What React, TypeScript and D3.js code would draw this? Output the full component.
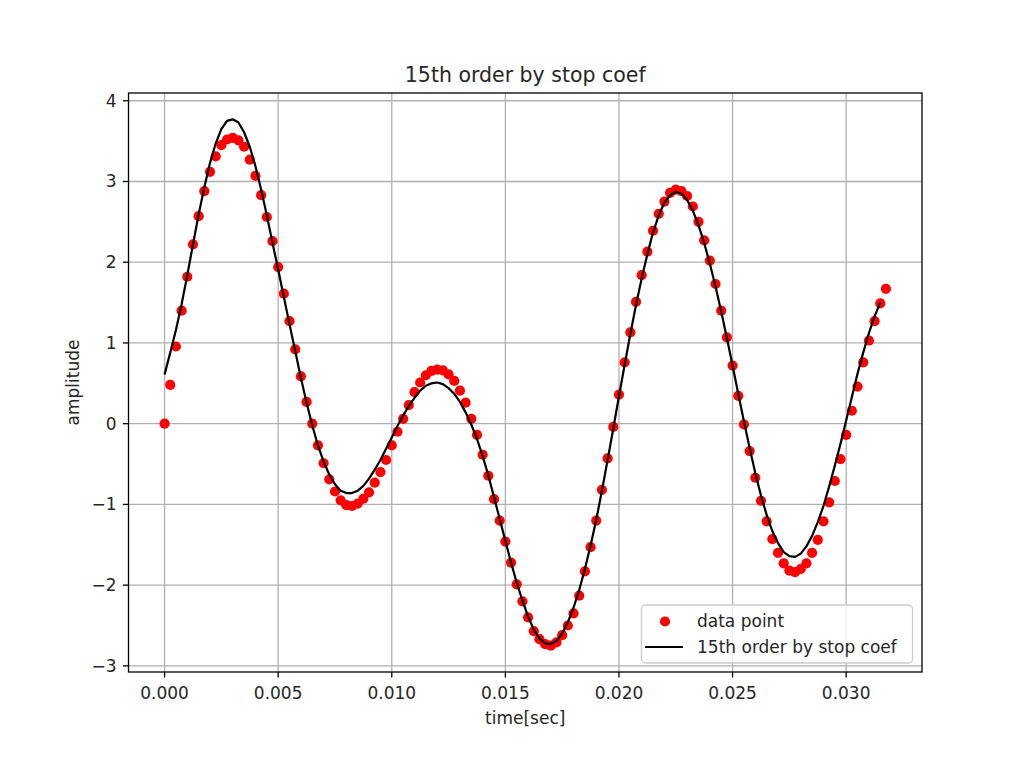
import React from "react";
import * as d3 from "d3";

// ---- data ----
const SAMPLE_STEP = 0.00025; // sampling interval [sec]

const amplitude: number[] = [
  0, 0.48, 0.956, 1.4, 1.82, 2.22, 2.57, 2.88, 3.12, 3.31,
  3.45, 3.52, 3.54, 3.51, 3.43, 3.27, 3.07, 2.83, 2.56, 2.26,
  1.94, 1.61, 1.27, 0.92, 0.585, 0.27, 0.0, -0.27, -0.49, -0.69,
  -0.84, -0.95, -1.01, -1.02, -0.99, -0.93, -0.85, -0.73, -0.6, -0.45,
  -0.27, -0.1, 0.06, 0.23, 0.39, 0.51, 0.6, 0.655, 0.67, 0.66,
  0.61, 0.53, 0.41, 0.26, 0.06, -0.14, -0.385, -0.645, -0.935, -1.2,
  -1.46, -1.72, -1.99, -2.2, -2.4, -2.57, -2.67, -2.73, -2.75, -2.71,
  -2.62, -2.5, -2.35, -2.13, -1.83, -1.53, -1.2, -0.82, -0.43, -0.04,
  0.36, 0.76, 1.13, 1.51, 1.84, 2.13, 2.39, 2.6, 2.75, 2.86,
  2.9, 2.88, 2.82, 2.69, 2.5, 2.27, 2.02, 1.73, 1.4, 1.07,
  0.72, 0.345, -0.01, -0.34, -0.67, -0.955, -1.21, -1.43, -1.6, -1.73,
  -1.82, -1.84, -1.8, -1.73, -1.6, -1.44, -1.21, -0.975, -0.71, -0.44,
  -0.14, 0.16, 0.46, 0.76, 1.03, 1.27, 1.49, 1.67,
];

const fitted: number[] = [
  0.61, 0.88, 1.16, 1.48, 1.84, 2.22, 2.59, 2.93, 3.23, 3.47,
  3.65, 3.75, 3.77, 3.73, 3.61, 3.43, 3.19, 2.9, 2.58, 2.24,
  1.91, 1.57, 1.23, 0.9, 0.57, 0.26, -0.02, -0.27, -0.47, -0.63,
  -0.75, -0.83, -0.86, -0.86, -0.83, -0.77, -0.68, -0.57, -0.45, -0.31,
  -0.17, -0.03, 0.1, 0.22, 0.32, 0.41, 0.47, 0.5, 0.51, 0.49,
  0.44, 0.37, 0.27, 0.14, -0.01, -0.19, -0.4, -0.64, -0.91, -1.18,
  -1.45, -1.72, -1.97, -2.19, -2.39, -2.55, -2.66, -2.72, -2.73, -2.69,
  -2.6, -2.46, -2.28, -2.06, -1.8, -1.51, -1.19, -0.83, -0.45, -0.06,
  0.34, 0.73, 1.11, 1.47, 1.8, 2.1, 2.37, 2.58, 2.74, 2.83,
  2.87, 2.85, 2.77, 2.64, 2.46, 2.24, 1.98, 1.7, 1.39, 1.06,
  0.72, 0.37, 0.03, -0.3, -0.61, -0.89, -1.13, -1.33, -1.48, -1.59,
  -1.64, -1.65, -1.61, -1.52, -1.39, -1.22, -1.02, -0.78, -0.52, -0.25,
  0.04, 0.33, 0.62, 0.88, 1.12, 1.33, 1.5,
];

const times: number[] = amplitude.map((_, i) => i * SAMPLE_STEP);
const fitTimes: number[] = fitted.map((_, i) => i * SAMPLE_STEP);

const xTicks: number[] = [0, 0.005, 0.01, 0.015, 0.02, 0.025, 0.03];
const yTicks: number[] = [-3, -2, -1, 0, 1, 2, 3, 4];

const TITLE = "15th order by stop coef";
const X_LABEL = "time[sec]";
const Y_LABEL = "amplitude";
const LEGEND_POINTS = "data point";
const LEGEND_LINE = "15th order by stop coef";

// ---- layout ----
const W = 1024;
const H = 768;
const L = 128.5;
const R = 922;
const T = 93;
const B = 672;
const FONT = "'DejaVu Sans', sans-serif";
const TXT = "#262626";
const FS = 17;

export default function App() {
  const tMin = d3.min(times)!;
  const tMax = d3.max(times)!;
  const tPad = (tMax - tMin) * 0.05;
  const yMin = Math.min(d3.min(amplitude)!, d3.min(fitted)!);
  const yMax = Math.max(d3.max(amplitude)!, d3.max(fitted)!);
  const yPad = (yMax - yMin) * 0.05;

  const x = d3.scaleLinear().domain([tMin - tPad, tMax + tPad]).range([L, R]);
  const y = d3.scaleLinear().domain([yMin - yPad, yMax + yPad]).range([B, T]);

  const line = d3
    .line<number>()
    .x((_, i) => x(fitTimes[i]))
    .y((d) => y(d));

  const fmtX = d3.format(".3f");
  const fmtY = (v: number) => (v < 0 ? "\u2212" + Math.abs(v) : String(v));

  return (
    <svg
      width={W}
      height={H}
      style={{ display: "block", position: "absolute", left: 0, top: 0, background: "#fff" }}
      fontFamily={FONT}
    >
      <rect x={0} y={0} width={W} height={H} fill="#fff" />
      {/* grid */}
      <g stroke="#b0b0b0" strokeWidth={1.3}>
        {xTicks.map((t) => (
          <line key={"gx" + t} x1={x(t)} x2={x(t)} y1={T} y2={B} />
        ))}
        {yTicks.map((v) => (
          <line key={"gy" + v} x1={L} x2={R} y1={y(v)} y2={y(v)} />
        ))}
      </g>
      {/* data points */}
      <g fill="#ff0000">
        {amplitude.map((v, i) => (
          <circle key={"p" + i} cx={x(times[i])} cy={y(v)} r={5.1} />
        ))}
      </g>
      {/* fitted line */}
      <path d={line(fitted) || ""} fill="none" stroke="#000" strokeWidth={2.2} strokeLinejoin="round" />
      {/* spines */}
      <rect x={L} y={T} width={R - L} height={B - T} fill="none" stroke="#000" strokeWidth={1.3} />
      {/* x ticks */}
      <g>
        {xTicks.map((t) => (
          <g key={"xt" + t}>
            <line x1={x(t)} x2={x(t)} y1={B} y2={B + 5.6} stroke="#000" strokeWidth={1.3} />
            <text x={x(t)} y={B + 27} textAnchor="middle" fontSize={FS} fill={TXT}>
              {fmtX(t)}
            </text>
          </g>
        ))}
      </g>
      {/* y ticks */}
      <g>
        {yTicks.map((v) => (
          <g key={"yt" + v}>
            <line x1={L - 5.6} x2={L} y1={y(v)} y2={y(v)} stroke="#000" strokeWidth={1.3} />
            <text x={L - 12} y={y(v) + 6} textAnchor="end" fontSize={FS} fill={TXT}>
              {fmtY(v)}
            </text>
          </g>
        ))}
      </g>
      {/* labels */}
      <text x={(L + R) / 2} y={724} textAnchor="middle" fontSize={FS} fill={TXT}>
        {X_LABEL}
      </text>
      <text
        transform={`translate(79, ${(T + B) / 2}) rotate(-90)`}
        textAnchor="middle"
        fontSize={FS}
        fill={TXT}
      >
        {Y_LABEL}
      </text>
      <text x={(L + R) / 2} y={81.5} textAnchor="middle" fontSize={20.5} fill={TXT}>
        {TITLE}
      </text>
      {/* legend */}
      <g>
        <rect x={641.5} y={605} width={271} height={58} rx={4} fill="#fff" fillOpacity={0.8} stroke="#cccccc" strokeWidth={1.3} />
        <circle cx={665} cy={621.5} r={5.1} fill="#ff0000" />
        <line x1={645} x2={683} y1={647} y2={647} stroke="#000" strokeWidth={2.2} />
        <text x={697} y={627} fontSize={FS} fill={TXT}>
          {LEGEND_POINTS}
        </text>
        <text x={697} y={653} fontSize={FS} fill={TXT}>
          {LEGEND_LINE}
        </text>
      </g>
    </svg>
  );
}
